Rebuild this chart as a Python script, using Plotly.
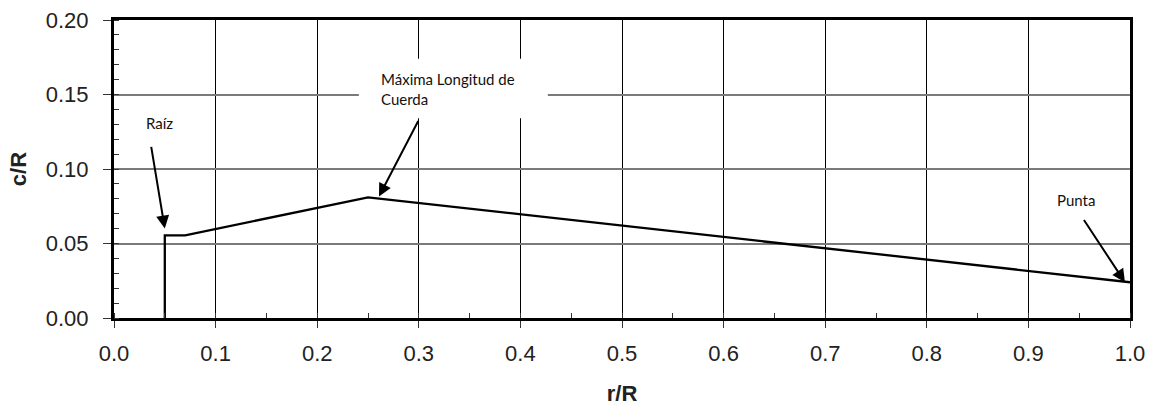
import plotly.graph_objects as go

# Data: chord distribution c/R vs r/R
r_R = [0.05, 0.05, 0.07, 0.15, 0.25, 1.0]
c_R = [0.0, 0.0555, 0.0555, 0.0668, 0.081, 0.024]

x_ticks = [0.0, 0.1, 0.2, 0.3, 0.4, 0.5, 0.6, 0.7, 0.8, 0.9, 1.0]
y_ticks = [0.00, 0.05, 0.10, 0.15, 0.20]

ann_font = dict(family="Lato, Open Sans, sans-serif", size=15, color="#111")

fig = go.Figure()
fig.add_trace(go.Scatter(
    x=r_R, y=c_R, mode="lines",
    line=dict(color="black", width=2.3),
    showlegend=False, hoverinfo="skip",
))

# white box behind the "Máxima Longitud de Cuerda" label
fig.add_shape(type="rect", xref="x", yref="y",
              x0=0.241, x1=0.427, y0=0.134, y1=0.174,
              fillcolor="white", line=dict(width=0), layer="above")

arrow = dict(showarrow=True, arrowhead=2, arrowsize=1.3, arrowwidth=2,
             arrowcolor="black", text="", axref="x", ayref="y",
             xref="x", yref="y")

# Raíz
fig.add_annotation(x=r_R[1], y=c_R[1] + 0.0045, ax=0.0364, ay=0.1158, **arrow)
fig.add_annotation(x=0.0443, y=0.1312, text="Raíz", showarrow=False,
                   font=ann_font, xanchor="center", yanchor="middle")
# Máxima
fig.add_annotation(x=r_R[4] + 0.0108, y=c_R[4] + 0.0005, ax=0.3002, ay=0.1332, **arrow)
fig.add_annotation(x=0.2608, y=0.1535, text="Máxima Longitud de<br>Cuerda",
                   showarrow=False, font=ann_font, align="left",
                   xanchor="left", yanchor="middle")
# Punta
fig.add_annotation(x=r_R[5] - 0.005, y=c_R[5], ax=0.9537, ay=0.0668, **arrow)
fig.add_annotation(x=0.9469, y=0.0789, text="Punta", showarrow=False,
                   font=ann_font, xanchor="center", yanchor="middle")

tick_font = dict(family="Liberation Sans, Arial, sans-serif", size=22, color="#222")
title_font = dict(family="Liberation Sans, Arial, sans-serif", size=22, color="#222")

fig.update_xaxes(
    range=[0, 1.0], tickvals=x_ticks, ticktext=[f"{v:.1f}" for v in x_ticks],
    ticks="outside", ticklen=7, tickwidth=1, tickcolor="#333",
    ticklabelstandoff=7, automargin=False,
    showgrid=True, gridcolor="black", gridwidth=1,
    showline=True, linecolor="black", linewidth=3, mirror=True,
    minor=dict(ticks="inside", dtick=0.05, tick0=0, ticklen=5, tickwidth=1,
               tickcolor="#333", showgrid=False),
    tickfont=tick_font, zeroline=False,
    title=dict(text="<b>r/R</b>", font=title_font, standoff=23),
)
fig.update_yaxes(
    range=[0, 0.20], tickvals=y_ticks, ticktext=[f"{v:.2f}" for v in y_ticks],
    ticks="outside", ticklen=8, tickwidth=1, tickcolor="#333",
    ticklabelstandoff=10, automargin=False,
    showgrid=True, gridcolor="#7a7a7a", gridwidth=1.5,
    showline=True, linecolor="black", linewidth=3, mirror=True,
    minor=dict(ticks="inside", dtick=0.01, tick0=0, ticklen=5, tickwidth=1,
               tickcolor="#333", showgrid=False),
    tickfont=tick_font, zeroline=False,
    title=dict(text="<b>c/R</b>", font=title_font, standoff=14),
)

fig.update_layout(
    width=1152, height=406,
    margin=dict(l=114, r=22, t=20, b=88),
    paper_bgcolor="white", plot_bgcolor="white",
)

fig.write_html("out.html")
